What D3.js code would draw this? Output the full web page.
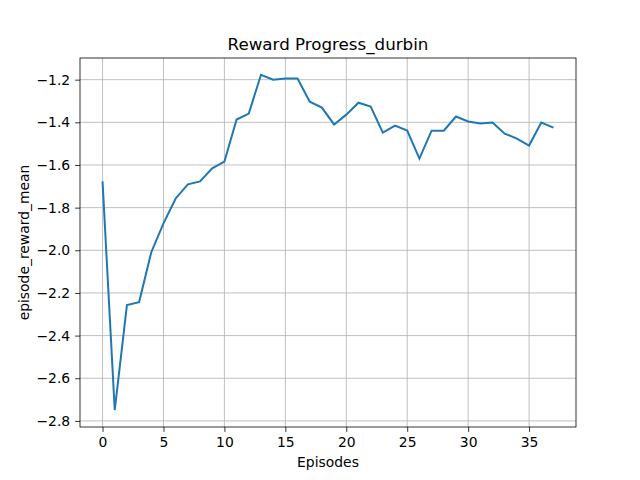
<!DOCTYPE html>
<html><head><meta charset="utf-8">
<script src="https://cdn.jsdelivr.net/npm/d3@7"></script>
<style>body{margin:0;background:#fff}text{font-family:"DejaVu Sans",sans-serif}</style>
</head><body><svg id="c" width="640" height="480"></svg>
<script>
const episodes = d3.range(38);
const rewards = [-1.677,-2.749,-2.257,-2.243,-2.009,-1.874,-1.757,-1.691,-1.677,-1.616,-1.584,-1.387,-1.359,-1.177,-1.2,-1.195,-1.195,-1.303,-1.331,-1.41,-1.364,-1.308,-1.326,-1.448,-1.415,-1.439,-1.57,-1.439,-1.439,-1.373,-1.396,-1.406,-1.401,-1.453,-1.476,-1.509,-1.401,-1.425];
const xTicks = [0,5,10,15,20,25,30,35];
const yTicks = [-2.8,-2.6,-2.4,-2.2,-2.0,-1.8,-1.6,-1.4,-1.2];

const L=80,R=576,T=58,B=427;
const svg=d3.select("#c");
const x=d3.scaleLinear().domain([-1.85,38.85]).range([L,R]);
const y=d3.scaleLinear().domain([-2.8286,-1.0984]).range([B,T]);

const gx=svg.append("g").attr("transform",`translate(0,${B})`)
 .call(d3.axisBottom(x).tickValues(xTicks).tickSize(4.9).tickPadding(4.9).tickFormat(d3.format("d")));
const gy=svg.append("g").attr("transform",`translate(${L},0)`)
 .call(d3.axisLeft(y).tickValues(yTicks).tickSize(4.9).tickPadding(4.9).tickFormat(d=>d.toFixed(1).replace("-","\u2212")));
[gx,gy].forEach(g=>{g.select(".domain").remove();g.selectAll("text").attr("font-size",13.9).attr("fill","#000");g.selectAll("line").attr("stroke","#000").attr("stroke-width",0.8);});

svg.append("g").selectAll("line").data(xTicks).join("line")
 .attr("x1",d=>x(d)).attr("x2",d=>x(d)).attr("y1",T).attr("y2",B).attr("stroke","#b0b0b0").attr("stroke-width",0.8);
svg.append("g").selectAll("line").data(yTicks).join("line")
 .attr("y1",d=>y(d)).attr("y2",d=>y(d)).attr("x1",L).attr("x2",R).attr("stroke","#b0b0b0").attr("stroke-width",0.8);

svg.append("path").datum(episodes.map((e,i)=>[e,rewards[i]]))
 .attr("fill","none").attr("stroke","#1f77b4").attr("stroke-width",2)
 .attr("d",d3.line().x(d=>x(d[0])).y(d=>y(d[1])));

svg.append("rect").attr("x",L).attr("y",T).attr("width",R-L).attr("height",B-T)
 .attr("fill","none").attr("stroke","#000").attr("stroke-width",0.8);

svg.append("text").attr("x",(L+R)/2).attr("y",T-8).attr("text-anchor","middle").attr("font-size",16.7).text("Reward Progress_durbin");
svg.append("text").attr("x",(L+R)/2).attr("y",467).attr("text-anchor","middle").attr("font-size",13.9).text("Episodes");
svg.append("text").attr("transform",`translate(29,${(T+B)/2}) rotate(-90)`).attr("text-anchor","middle").attr("font-size",13.9).text("episode_reward_mean");
</script></body></html>
